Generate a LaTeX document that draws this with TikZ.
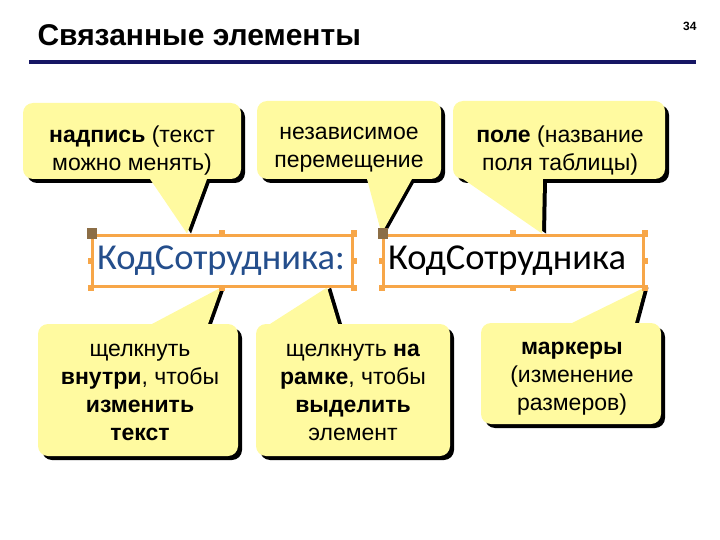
\documentclass[tikz,border=0pt]{standalone}
\usepackage{fontspec}
\setmainfont{Liberation Sans}
\newfontfamily\calibri{Carlito}
\usetikzlibrary{calc,backgrounds}

\definecolor{notefill}{RGB}{255,250,160}
\definecolor{framecol}{RGB}{247,166,72}
\definecolor{gripcol}{RGB}{140,110,70}
\definecolor{rulecol}{RGB}{22,22,100}
\definecolor{fieldblue}{RGB}{36,78,140}

% callout: body corners, tail base, tip, tail base
\newcommand\bubble[5]{%
  \fill[black, rounded corners=10pt] ($#1+(4,4)$) rectangle ($#2+(4,4)$);
  \fill[black] ($#3+(4,0)$) -- ($(#4)+(4,0)$) -- ($#5+(4,0)$) -- cycle;
  \fill[notefill, rounded corners=10pt] #1 rectangle #2;
  \fill[notefill] #3 -- (#4) -- #5 -- cycle;
}

\begin{document}
\begin{tikzpicture}[x=1pt, y=-1pt,
    note/.style={align=center, inner sep=0pt, font=\fontsize{23}{28}\selectfont},
    field/.style={draw=framecol, line width=3pt, minimum height=51pt, text width=250pt,
      align=left, inner xsep=5pt, inner ysep=0pt, font=\calibri\fontsize{36.5}{36.5}\selectfont},
    grip/.style={fill=framecol}]
  \useasboundingbox (0,0) rectangle (720,540);
  % title
  \node[anchor=base west, font=\bfseries\fontsize{30}{30}\selectfont] (title) at (34,46) {Связанные элементы};
  \node[anchor=base east, font=\bfseries\fontsize{12}{12}\selectfont] (page) at (700,31) {34};
  \draw[rulecol, line width=4pt] (29,62) -- (696,62);
  % fields on the form
  \node[field, text=fieldblue] (label) at (222,260.5) {КодСотрудника:};
  \node[field] (value) at (513,260.5) {КодСотрудника};
  \foreach \n in {label, value} {
    \foreach \a in {north, north east, east, south east, south, south west, west}
      \fill[grip] ([shift={(-3,-3)}]\n.\a) rectangle +(6,6);
    \fill[gripcol] ([shift={(-4,-5)}]\n.north west) rectangle +(10,10);
  }
  % callout texts
  \node[note] (nadpis) at (132,151) {\textbf{надпись} (текст\\можно менять)};
  \node[note] (move) at (349,150) {независимое\\перемещение};
  \node[note] (pole) at (560,151) {\textbf{поле} (название\\поля таблицы)};
  \node[note] (inside) at (140,392) {щелкнуть\\\textbf{внутри}, чтобы\\\textbf{изменить}\\\textbf{текст}};
  \node[note] (frame) at (353,392) {щелкнуть \textbf{на}\\\textbf{рамке}, чтобы\\\textbf{выделить}\\элемент};
  \node[note] (grips) at (572,379) {\textbf{маркеры}\\(изменение\\размеров)};
  % pointer tips
  \coordinate (tipA) at ([xshift=-35pt]label.north);
  \coordinate (tipB) at (value.north west);
  \coordinate (tipC) at ([xshift=29pt]value.north);
  \coordinate (tipD) at ([xshift=-1pt]label.south);
  \coordinate (tipE) at ([xshift=105pt]label.south);
  \coordinate (tipF) at (value.south east);
  \begin{scope}[on background layer]
    \bubble{(23,103)}{(241,179)}{(150,179)}{tipA}{(207,179)}
    \bubble{(257,101)}{(441,179)}{(367,179)}{tipB}{(412,179)}
    \bubble{(453,101)}{(665,179)}{(463,179)}{tipC}{(543,179)}
    \bubble{(38,324)}{(238,456)}{(152,324)}{tipD}{(208,324)}
    \bubble{(256,324)}{(450,456)}{(270,324)}{tipE}{(338,324)}
    \bubble{(481,323)}{(661,424)}{(572,323)}{tipF}{(635,323)}
  \end{scope}
\end{tikzpicture}
\end{document}
